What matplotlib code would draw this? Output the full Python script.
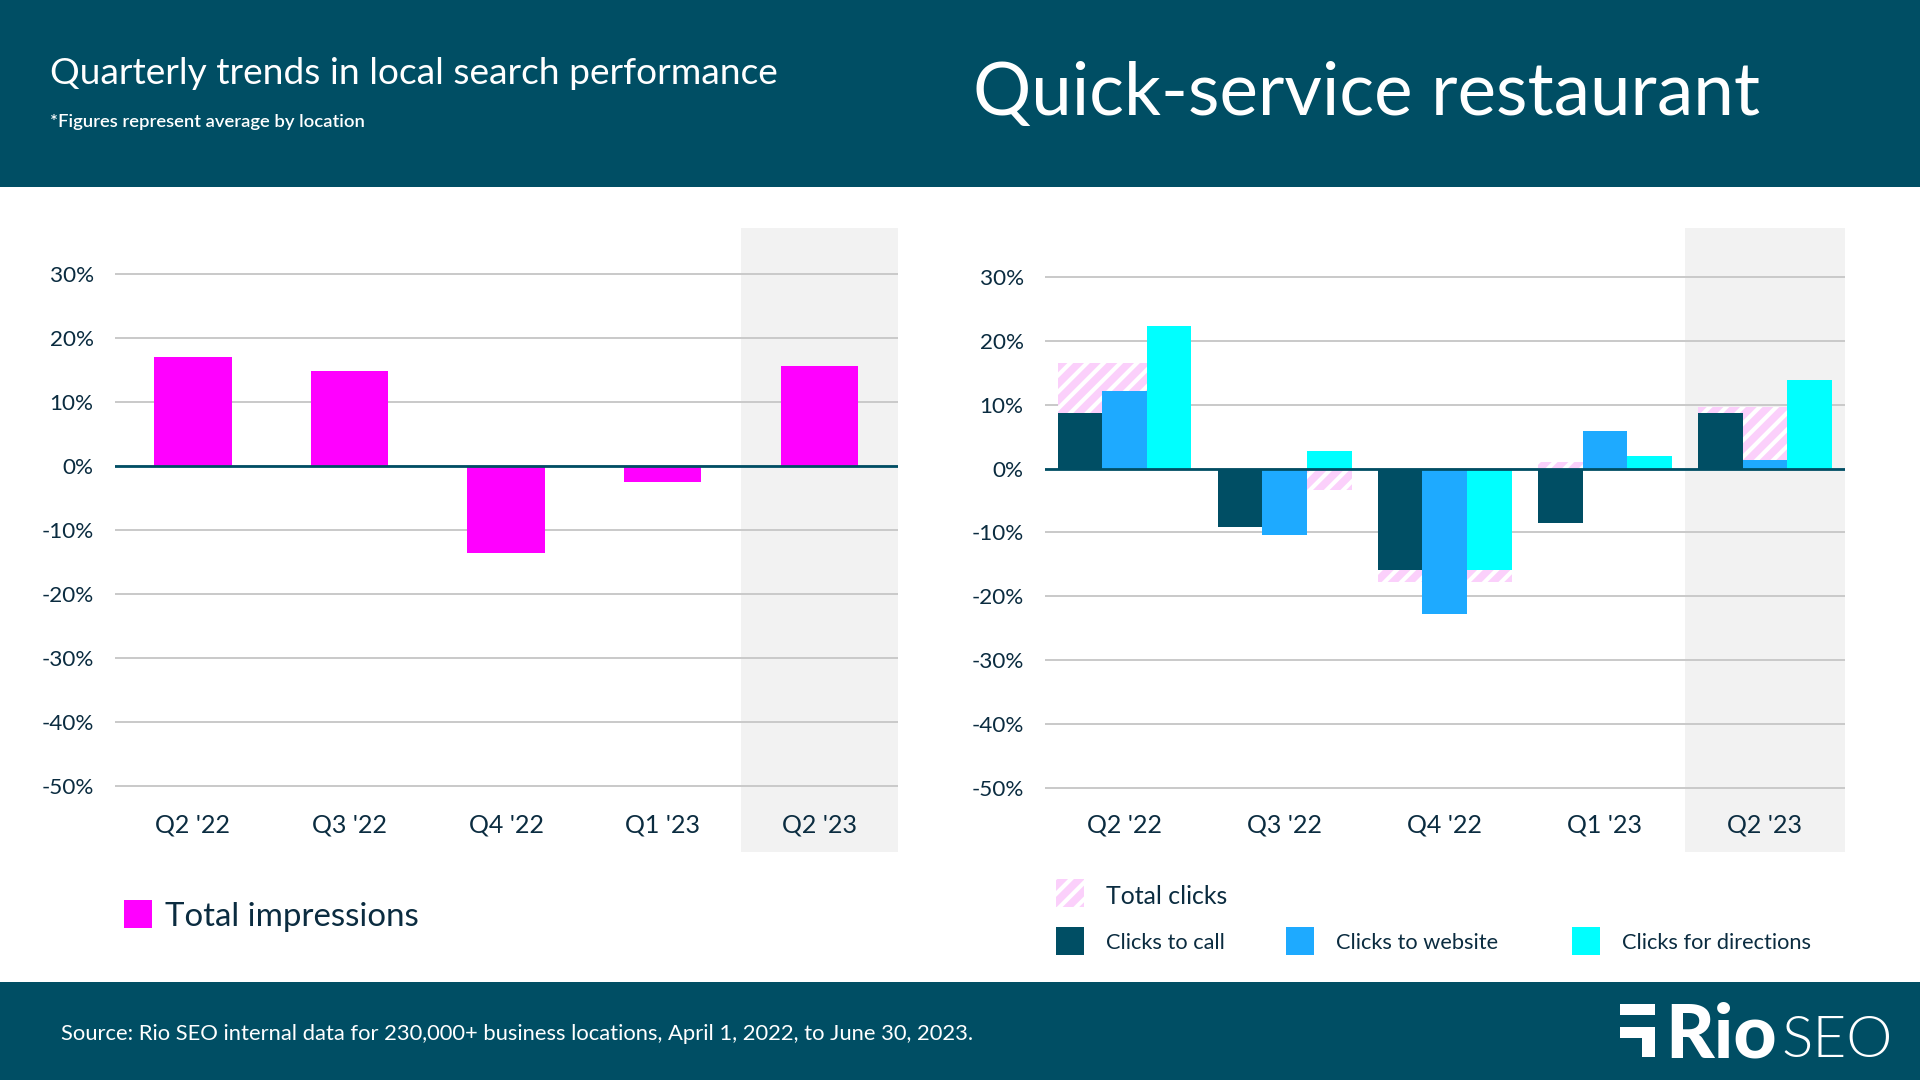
import matplotlib
matplotlib.use("Agg")
import matplotlib.pyplot as plt
from matplotlib.patches import Rectangle
import numpy as np

plt.rcParams['font.family'] = ['Lato', 'DejaVu Sans']
plt.rcParams['hatch.linewidth'] = 3.0

quarters = ["Q2 '22", "Q3 '22", "Q4 '22", "Q1 '23", "Q2 '23"]
yticks = [30, 20, 10, 0, -10, -20, -30, -40, -50]

impressions = [17.0, 14.9, -13.6, -2.5, 15.7]

total_clicks = [16.6, -3.4, -17.8, 1.0, 9.7]
clicks_call = [8.7, -9.2, -15.9, -8.5, 8.7]
clicks_website = [12.2, -10.4, -22.8, 5.9, 1.3]
clicks_directions = [22.4, 2.8, -15.9, 2.0, 13.9]

DARK = "#004E64"
TEXT = "#0B2C40"
GRID = "#C9C9C9"
SHADE = "#F2F2F2"
MAGENTA = "#FF00FF"
BLUE = "#1EAAFF"
CYAN = "#00FFFF"
PINK = "#FBD0FB"

W, H = 1920, 1080


def add_axes(x0, x1, y0, y1):
	return fig.add_axes([x0/W, 1-y1/H, (x1-x0)/W, (y1-y0)/H])


def style_axes(ax, ylim):
	ax.set_xlim(-0.5, 4.5)
	ax.set_ylim(*ylim)
	ax.axvspan(3.5, 4.5, color=SHADE, lw=0, zorder=0)
	ax.set_yticks(yticks)
	ax.set_yticklabels([str(t)+"%" for t in yticks])
	ax.set_xticks(range(5))
	ax.set_xticklabels(quarters)
	ax.grid(axis="y", color=GRID, lw=1.4, zorder=1)
	ax.tick_params(axis="both", length=0, labelcolor=TEXT)
	ax.tick_params(axis="x", pad=-28, labelsize=18)
	ax.tick_params(axis="y", pad=15, labelsize=16.2)
	for s in ax.spines.values():
		s.set_visible(False)
	ax.axhline(0, color=DARK, lw=2, zorder=5)
	ax.patch.set_alpha(0)


fig = plt.figure(figsize=(W/100, H/100), dpi=100, facecolor="white")

# everything outside the two plots, in pixel coordinates
bg = fig.add_axes([0, 0, 1, 1])
bg.set_xlim(0, W)
bg.set_ylim(H, 0)
bg.axis("off")
bg.add_patch(Rectangle((0, 0), W, 187, color=DARK, lw=0))
bg.add_patch(Rectangle((0, 982), W, 98, color=DARK, lw=0))

bg.text(50, 74, "Quarterly trends in local search performance", color="white", fontsize=26.7, va="center")
bg.text(50, 122, "*Figures represent average by location", color="white", fontsize=13.3, va="center", fontweight="semibold")
bg.text(973, 94, "Quick-service restaurant", color="white", fontsize=52.4, va="center")
bg.text(61, 1034, "Source: Rio SEO internal data for 230,000+ business locations, April 1, 2022, to June 30, 2023.", color="white", fontsize=15.8, va="center")

# logo
bg.add_patch(Rectangle((1620, 1004), 35, 11, color="white", lw=0))
bg.add_patch(Rectangle((1620, 1027), 35, 11, color="white", lw=0))
bg.add_patch(Rectangle((1642, 1027), 13, 30, color="white", lw=0))
bg.text(1665, 1057, "Rio", color="white", fontsize=54, fontweight="black", va="baseline")
bg.text(1781, 1057, "SEO", color="white", fontsize=42, fontweight=300, va="baseline")

# left legend
bg.add_patch(Rectangle((124, 900), 28, 28, color=MAGENTA, lw=0))
bg.text(165, 917, "Total impressions", color=TEXT, fontsize=23.8, va="center")

# right legend
bg.add_patch(Rectangle((1056, 879), 28, 28, facecolor=PINK, edgecolor="white", hatch="//", lw=0))
bg.text(1106, 897, "Total clicks", color=TEXT, fontsize=17.9, va="center")
for x, col, label in [(1056, DARK, "Clicks to call"), (1286, BLUE, "Clicks to website"), (1572, CYAN, "Clicks for directions")]:
	bg.add_patch(Rectangle((x, 927), 28, 28, color=col, lw=0))
	bg.text(x+50, 943, label, color=TEXT, fontsize=15.7, va="center")

# left plot
ax1 = add_axes(114.5, 897.6, 228, 852)
style_axes(ax1, (-60.3, 37.2))
ax1.bar(range(5), impressions, width=0.495, color=MAGENTA, zorder=3)

# right plot
ax2 = add_axes(1044.5, 1845, 228, 852)
style_axes(ax2, (-60.1, 37.7))
pos = np.arange(5)
bw = 0.2785
ax2.bar(pos, total_clicks, width=bw*3, facecolor=PINK, edgecolor="white", hatch="//", lw=0, zorder=2)
ax2.bar(pos-bw, clicks_call, width=bw, color=DARK, zorder=3)
ax2.bar(pos, clicks_website, width=bw, color=BLUE, zorder=3)
ax2.bar(pos+bw, clicks_directions, width=bw, color=CYAN, zorder=3)

fig.savefig("out.png", dpi=100)
